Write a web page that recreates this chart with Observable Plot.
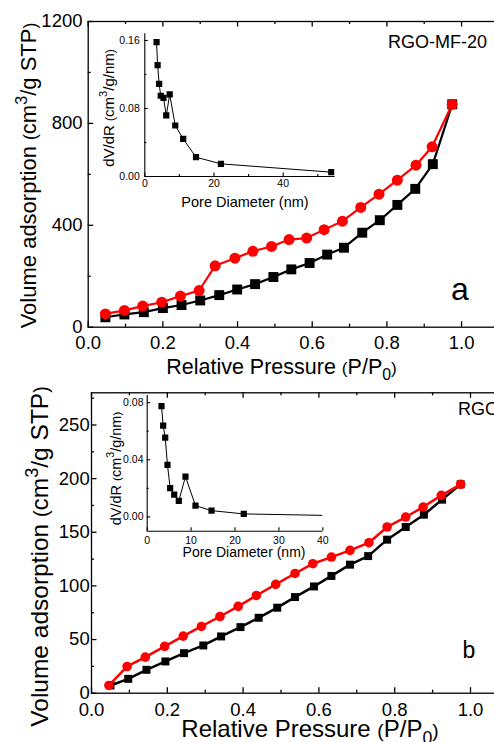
<!DOCTYPE html>
<html>
<head>
<meta charset="utf-8">
<script src="https://cdn.jsdelivr.net/npm/d3@7"></script>
<script src="https://cdn.jsdelivr.net/npm/@observablehq/plot@0.6"></script>
<style>
  html, body { margin: 0; padding: 0; background: #fff; }
  #fig { position: relative; width: 494px; height: 742px; overflow: hidden; background: #fff; }
  #fig svg { position: absolute; }
  #fig text { white-space: pre; }
</style>
</head>
<body>
<div id="fig"></div>
<script>
// ---------------- data ----------------
// Panel a : RGO-MF-20 isotherm
const pressAdsA = [0.046,0.097,0.149,0.200,0.250,0.300,0.351,0.399,0.447,0.496,0.544,0.593,0.640,0.685,0.734,0.781,0.828,0.876,0.923,0.975];
const volAdsA   = [39,50,59,75,87,105,126,148,169,197,227,252,285,312,371,420,480,543,640,875];
const pressDesA = [0.046,0.097,0.146,0.197,0.247,0.297,0.340,0.393,0.441,0.491,0.538,0.585,0.632,0.681,0.730,0.779,0.828,0.878,0.921,0.975];
const volDesA   = [52,66,83,98,122,144,241,271,298,317,344,350,383,416,470,522,577,636,708,875];
// Panel a inset : pore size distribution
const poreA = [3.4,3.7,4.15,4.6,5.4,6.2,7.2,8.8,11.1,14.8,22,53.9];
const dvdrA = [0.158,0.131,0.109,0.095,0.0926,0.0718,0.0965,0.060,0.0443,0.0227,0.0149,0.0051];

// Panel b : RGO isotherm
const pressAdsB = [0.050,0.097,0.145,0.195,0.244,0.295,0.342,0.393,0.441,0.490,0.537,0.587,0.633,0.682,0.730,0.780,0.829,0.877,0.925,0.974];
const volAdsB   = [7.2,13.4,21.8,29.6,37.3,44.5,52.9,61.6,70.3,79.7,89.6,99.5,109.3,119.8,127.8,143.1,154.9,166.4,180.4,194.7];
const pressDesB = [0.046,0.094,0.142,0.193,0.242,0.290,0.339,0.387,0.435,0.486,0.537,0.584,0.633,0.682,0.732,0.780,0.829,0.875,0.923,0.974];
const volDesB   = [7.2,24.9,33.6,43.6,53.2,62.2,71.5,80.9,91.1,101.4,111.6,120.7,126.9,133.1,140.3,154.9,164.2,173.5,184.4,194.7];
// Panel b inset
const poreB = [3.26,3.64,4.1,4.62,5.23,6.15,7.2,8.72,11,14.65,22,54];
const dvdrB = [0.0776,0.0639,0.0555,0.0364,0.0201,0.0156,0.0112,0.0282,0.0079,0.0044,0.0021,0.0003];

// tick values
const xMajor = [0,0.2,0.4,0.6,0.8,1.0];
const xMinor = [0.1,0.3,0.5,0.7,0.9];
const yMajorA = [0,400,800,1200];
const yMinorA = [200,600,1000];
const yMajorB = [0,50,100,150,200,250];
const yMinorB = [25,75,125,175,225,275];
const insetXMajorA = [0,20,40];
const insetXMinorA = [10,30,50];
const insetYMajorA = [0,0.08,0.16];
const insetYMinorA = [0.04,0.12];
const insetXMajorB = [0,10,20,30,40];
const insetYMajorB = [0,0.04,0.08];
const insetYMinorB = [0.02,0.06];

const zip = (xs, ys) => xs.map((x, i) => ({x, y: ys[i]}));

// ---------------- drawing ----------------
const FONT = '"Liberation Sans", Arial, Helvetica, sans-serif';
const fig = document.getElementById("fig");
const baseStyle = `max-width:none;overflow:visible;background:transparent;font-family:${FONT};color:#000;`;

function place(svg, left, top) {
  svg.style.left = left + "px";
  svg.style.top = top + "px";
  fig.appendChild(svg);
}

function mainPanel(o) {
  const iw = o.width - o.mL - o.mR, ih = o.height - o.mT - o.mB;
  const major = 5.5, minor = 3, sw = 1.3;
  const k = {stroke: "black", strokeWidth: sw};
  return Plot.plot({
    width: o.width, height: o.height,
    marginLeft: o.mL, marginRight: o.mR, marginTop: o.mT, marginBottom: o.mB,
    style: baseStyle,
    x: {domain: [0, 1.1]},
    y: {domain: o.yDomain},
    marks: [
      Plot.frame(k),
      Plot.ruleX(xMajor, {x: d => d, insetTop: ih - major, ...k}),
      Plot.ruleX(xMajor, {x: d => d, insetBottom: ih - major, ...k}),
      Plot.ruleX(xMinor, {x: d => d, insetTop: ih - minor, ...k}),
      Plot.ruleX(xMinor, {x: d => d, insetBottom: ih - minor, ...k}),
      Plot.ruleY(o.yMajor, {y: d => d, insetRight: iw - major, ...k}),
      Plot.ruleY(o.yMinor, {y: d => d, insetRight: iw - minor, ...k}),
      Plot.axisX(xMajor, {tickSize: 0, tickPadding: o.xPad, tickFormat: d3.format(".1f"), fontSize: o.tickFont, fill: "black", label: null}),
      Plot.axisY(o.yMajor, {tickSize: 0, tickPadding: o.yPad, tickFormat: d3.format("d"), fontSize: o.tickFont, fill: "black", label: null}),
      Plot.line(o.ads, {x: "x", y: "y", stroke: "black", strokeWidth: o.lw}),
      Plot.dot(o.ads, {x: "x", y: "y", symbol: "square", r: o.sqR, fill: "black"}),
      Plot.line(o.des, {x: "x", y: "y", stroke: "#ff0000", strokeWidth: o.lw}),
      Plot.dot(o.des, {x: "x", y: "y", symbol: "circle", r: o.cR, fill: "#ff0000"})
    ]
  });
}

function insetPanel(o) {
  const iw = o.width - o.mL - o.mR, ih = o.height - o.mT - o.mB;
  const major = 3.5, minor = 2, sw = 1.1;
  const k = {stroke: "black", strokeWidth: sw};
  return Plot.plot({
    width: o.width, height: o.height,
    marginLeft: o.mL, marginRight: o.mR, marginTop: o.mT, marginBottom: o.mB,
    style: baseStyle,
    x: {domain: o.xDomain},
    y: {domain: o.yDomain},
    marks: [
      Plot.ruleX([o.xDomain[0]], {x: d => d, ...k}),
      Plot.ruleY([o.yDomain[0]], {y: d => d, ...k}),
      Plot.ruleX(o.xMajor, {x: d => d, insetTop: ih - major, ...k}),
      Plot.ruleX(o.xMinor, {x: d => d, insetTop: ih - minor, ...k}),
      Plot.ruleY(o.yMajor, {y: d => d, insetRight: iw - major, ...k}),
      Plot.ruleY(o.yMinor, {y: d => d, insetRight: iw - minor, ...k}),
      Plot.axisX(o.xMajor, {tickSize: 0, tickPadding: o.xPad, tickFormat: d3.format("d"), fontSize: 10.5, fill: "black", label: null}),
      Plot.axisY(o.yMajor, {tickSize: 0, tickPadding: o.yPad, tickFormat: d3.format(".2f"), fontSize: 10.5, fill: "black", label: null}),
      Plot.line(o.data, {x: "x", y: "y", stroke: "black", strokeWidth: 1, clip: true}),
      Plot.dot(o.data, {x: "x", y: "y", symbol: "square", r: 3.5, fill: "black", clip: true})
    ]
  });
}

// Panel a
place(mainPanel({
  width: 500, height: 372, mL: 87.7, mR: 1.6, mT: 21, mB: 45.3,
  yDomain: [0, 1200], yMajor: yMajorA, yMinor: yMinorA,
  ads: zip(pressAdsA, volAdsA), des: zip(pressDesA, volDesA),
  xPad: 9, yPad: 5.7, tickFont: 18.5, lw: 2.2, sqR: 5.6, cR: 5.5
}), 0, 0);

// Panel b
place(mainPanel({
  width: 510, height: 372, mL: 91, mR: 2.1, mT: 22.3, mB: 49.3,
  yDomain: [0, 280], yMajor: yMajorB, yMinor: yMinorB,
  ads: zip(pressAdsB, volAdsB), des: zip(pressDesB, volDesB),
  xPad: 9.5, yPad: 1.8, tickFont: 18.5, lw: 2.5, sqR: 4.5, cR: 4.8
}), 0, 370);

// Inset a
place(insetPanel({
  width: 260, height: 200, mL: 54.3, mR: 15.4, mT: 13.2, mB: 44,
  xDomain: [0, 55], yDomain: [0, 0.168],
  xMajor: insetXMajorA, xMinor: insetXMinorA, yMajor: insetYMajorA, yMinor: insetYMinorA,
  data: zip(poreA, dvdrA), xPad: 3.3, yPad: 5
}), 90, 20);

// Inset b
place(insetPanel({
  width: 250, height: 190, mL: 56.7, mR: 17.7, mT: 10, mB: 44.3,
  xDomain: [0, 40], yDomain: [-0.01, 0.085],
  xMajor: insetXMajorB, xMinor: [], yMajor: insetYMajorB, yMinor: insetYMinorB,
  data: zip(poreB, dvdrB), xPad: 5, yPad: 3.7
}), 90, 385);

// ---------------- titles & annotations ----------------
const over = d3.create("svg")
  .attr("width", 494).attr("height", 742)
  .attr("font-family", FONT)
  .style("left", "0px").style("top", "0px").style("overflow", "hidden");

function rich(x, y, size, parts, rotate = 0, anchor = "middle") {
  const t = over.append("text")
    .attr("transform", `translate(${x},${y}) rotate(${rotate})`)
    .attr("text-anchor", anchor)
    .attr("font-size", size)
    .attr("fill", "#000");
  let shift = 0;
  for (const part of parts) {
    const [s, kind] = Array.isArray(part) ? part : [part, null];
    let target = 0, fs = size;
    if (kind === "sup") { target = -0.42 * size; fs = 0.74 * size; }
    if (kind === "sub") { target = 0.3 * size; fs = 0.74 * size; }
    if (kind === "par") { fs = 0.8 * size; }
    const ts = t.append("tspan").attr("font-size", fs).text(s);
    if (target !== shift) { ts.attr("dy", target - shift); shift = target; }
  }
  return t;
}

const yTitle = ["Volume adsorption ", ["(", "par"], "cm", ["3", "sup"], "/g STP", [")", "par"]];
const xTitle = ["Relative Pressure ", ["(", "par"], "P/P", ["0", "sub"], [")", "par"]];
const insetY = ["dV/dR ", ["(", "par"], "cm", ["3", "sup"], "/g/nm", [")", "par"]];
const insetX = ["Pore Diameter (nm)"];

// panel a
rich(36, 175.5, 22, yTitle, -90);
rich(281.5, 374, 21.5, xTitle);
rich(460, 300, 32, ["a"]);
rich(388, 48.3, 18, ["RGO-MF-20"], 0, "start");
rich(113.5, 108, 15, insetY, -90);
rich(245, 207, 14.5, insetX);

// panel b
rich(48, 556.5, 24.5, yTitle, -90);
rich(310, 736.5, 24, xTitle);
rich(469, 658, 23, ["b"]);
rich(458, 415, 18, ["RGO"], 0, "start");
rich(120.5, 468.5, 14.5, insetY, -90);
rich(244, 557, 14, insetX);

fig.appendChild(over.node());
</script>
</body>
</html>
